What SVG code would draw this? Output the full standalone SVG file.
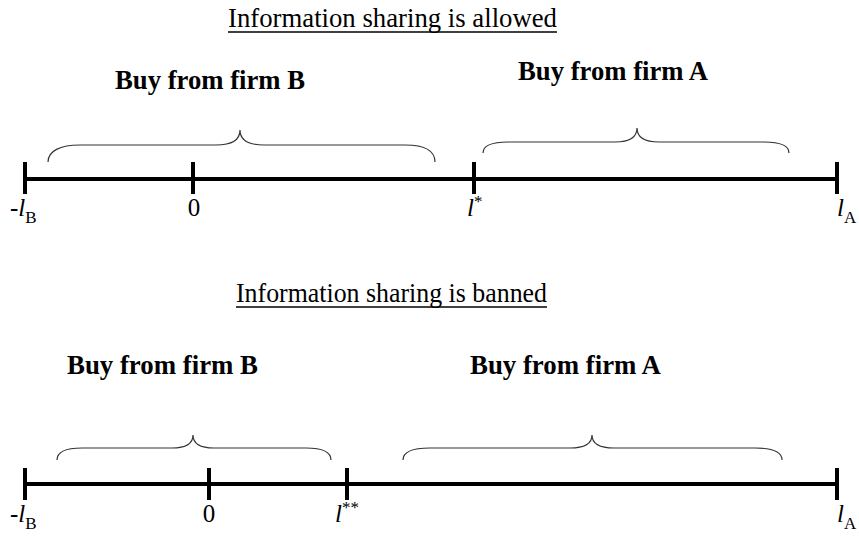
<svg xmlns="http://www.w3.org/2000/svg" width="859" height="537" viewBox="0 0 859 537">
  <style>
    .title { font-family: "Liberation Serif", "Times New Roman", serif; font-size: 26.5px; fill: #000; }
    .head { font-family: "Liberation Serif", "Times New Roman", serif; font-size: 26.5px; font-weight: bold; fill: #000; }
    .lab { font-family: "Liberation Serif", "Times New Roman", serif; font-size: 25px; fill: #000; }
    .it { font-style: italic; }
    .sub { font-size: 17px; }
    .sup { font-size: 17px; }
    .axis { stroke: #000; stroke-width: 4; fill: none; }
    .tick { stroke: #000; stroke-width: 4; }
    .brace { stroke: #333; stroke-width: 1.2; fill: none; }
    .uline { stroke: #000; stroke-width: 1.4; }
  </style>
  <rect width="859" height="537" fill="#fff"/>

  <!-- Upper panel: information sharing allowed -->
  <g id="title-allowed">
    <text class="title" x="228" y="27" textLength="329" lengthAdjust="spacingAndGlyphs">Information sharing is allowed</text>
    <line class="uline" x1="228" y1="32" x2="557" y2="32"/>
  </g>
  <g id="label-top-B">
    <text class="head" x="115" y="89" textLength="190" lengthAdjust="spacingAndGlyphs">Buy from firm B</text>
  </g>
  <g id="label-top-A">
    <text class="head" x="518" y="80" textLength="190" lengthAdjust="spacingAndGlyphs">Buy from firm A</text>
  </g>
  <g id="brace-top-B">
    <path class="brace" d="M48,162 C48,151 60,145 80,145 L216,145 C232,145 240,140 240,130 C240,140 248,145 264,145 L405,145 C425,145 435,151 435,162"/>
  </g>
  <g id="brace-top-A">
    <path class="brace" d="M483,153 C483,146 492,142 508,142 L615,142 C630,142 637,137 637,128 C637,137 644,142 659,142 L764,142 C780,142 789,146 789,153"/>
  </g>
  <g id="axis-top">
    <line class="axis" x1="25" y1="179" x2="837" y2="179"/>
    <line class="tick" x1="25" y1="162" x2="25" y2="194"/>
    <line class="tick" x1="193" y1="162" x2="193" y2="194"/>
    <line class="tick" x1="474" y1="162" x2="474" y2="194"/>
    <line class="tick" x1="837" y1="162" x2="837" y2="194"/>
  </g>
  <g id="ticks-top-labels">
    <text class="lab" x="10" y="216">-<tspan class="it">l</tspan><tspan class="sub" dy="7">B</tspan></text>
    <text class="lab" x="194" y="216" text-anchor="middle">0</text>
    <text class="lab" x="467" y="216"><tspan class="it">l</tspan><tspan class="sup" dy="-9">*</tspan></text>
    <text class="lab" x="837" y="216"><tspan class="it">l</tspan><tspan class="sub" dy="7">A</tspan></text>
  </g>

  <!-- Lower panel: information sharing banned -->
  <g id="title-banned">
    <text class="title" x="236" y="302" textLength="311" lengthAdjust="spacingAndGlyphs">Information sharing is banned</text>
    <line class="uline" x1="236" y1="307" x2="547" y2="307"/>
  </g>
  <g id="label-bottom-B">
    <text class="head" x="67" y="374" textLength="191" lengthAdjust="spacingAndGlyphs">Buy from firm B</text>
  </g>
  <g id="label-bottom-A">
    <text class="head" x="470" y="374" textLength="191" lengthAdjust="spacingAndGlyphs">Buy from firm A</text>
  </g>
  <g id="brace-bottom-B">
    <path class="brace" d="M57,460 C57,452 66,448 82,448 L172,448 C186,448 193,443 193,435 C193,443 200,448 214,448 L306,448 C322,448 331,452 331,460"/>
  </g>
  <g id="brace-bottom-A">
    <path class="brace" d="M403,460 C403,452 412,448 430,448 L570,448 C585,448 592,443 592,435 C592,443 599,448 614,448 L755,448 C773,448 782,452 782,460"/>
  </g>
  <g id="axis-bottom">
    <line class="axis" x1="25" y1="484" x2="837" y2="484"/>
    <line class="tick" x1="25" y1="468" x2="25" y2="500"/>
    <line class="tick" x1="209" y1="468" x2="209" y2="500"/>
    <line class="tick" x1="347" y1="468" x2="347" y2="500"/>
    <line class="tick" x1="837" y1="468" x2="837" y2="500"/>
  </g>
  <g id="ticks-bottom-labels">
    <text class="lab" x="10" y="522">-<tspan class="it">l</tspan><tspan class="sub" dy="7">B</tspan></text>
    <text class="lab" x="209" y="522" text-anchor="middle">0</text>
    <text class="lab" x="335" y="522"><tspan class="it">l</tspan><tspan class="sup" dy="-9">**</tspan></text>
    <text class="lab" x="837" y="522"><tspan class="it">l</tspan><tspan class="sub" dy="7">A</tspan></text>
  </g>
</svg>
